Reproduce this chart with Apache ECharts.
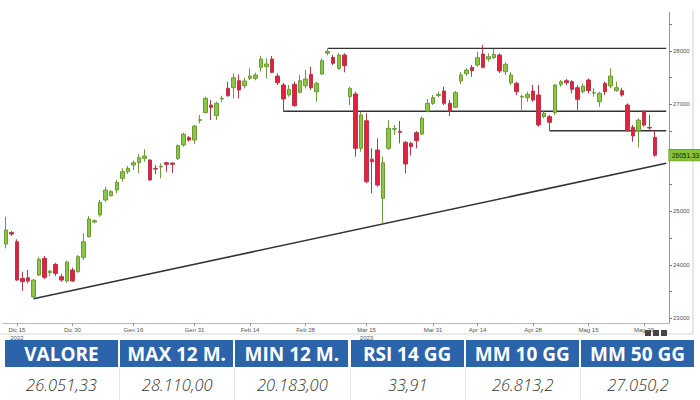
<!DOCTYPE html>
<html><head><meta charset="utf-8">
<script src="https://cdn.jsdelivr.net/npm/echarts@6/dist/echarts.min.js"></script>
<style>
html,body{margin:0;padding:0;background:#fff;}
#wrap{position:relative;width:700px;height:400px;overflow:hidden;}
#chart{position:absolute;left:0;top:0;width:700px;height:400px;}
.hdr{position:absolute;top:340px;height:27px;line-height:28px;background:#2b64aa;color:#fff;font-family:"Open Sans",sans-serif;font-weight:700;font-size:19px;text-align:center;white-space:nowrap;}
.val{position:absolute;top:368px;height:32px;line-height:34px;color:#333;font-family:"Open Sans",sans-serif;font-style:italic;font-weight:300;font-size:16.5px;text-align:center;border-left:1px solid #e6e6e6;box-sizing:border-box;}
</style></head>
<body><div id="wrap"><div id="chart"></div><div id="table"></div></div>
<script>
// ---- data ----
const dates = [
'2022-12-13','2022-12-14','2022-12-15','2022-12-16','2022-12-19','2022-12-20','2022-12-21','2022-12-22','2022-12-23','2022-12-27','2022-12-28','2022-12-29','2022-12-30',
'2023-01-02','2023-01-03','2023-01-04','2023-01-05','2023-01-06','2023-01-09','2023-01-10','2023-01-11','2023-01-12','2023-01-13','2023-01-16','2023-01-17','2023-01-18','2023-01-19','2023-01-20','2023-01-23','2023-01-24','2023-01-25','2023-01-26','2023-01-27','2023-01-30','2023-01-31',
'2023-02-01','2023-02-02','2023-02-03','2023-02-06','2023-02-07','2023-02-08','2023-02-09','2023-02-10','2023-02-13','2023-02-14','2023-02-15','2023-02-16','2023-02-17','2023-02-20','2023-02-21','2023-02-22','2023-02-23','2023-02-24','2023-02-27','2023-02-28',
'2023-03-01','2023-03-02','2023-03-03','2023-03-06','2023-03-07','2023-03-08','2023-03-09','2023-03-10','2023-03-13','2023-03-14','2023-03-15','2023-03-16','2023-03-17','2023-03-20','2023-03-21','2023-03-22','2023-03-23','2023-03-24','2023-03-27','2023-03-28','2023-03-29','2023-03-30','2023-03-31',
'2023-04-03','2023-04-04','2023-04-05','2023-04-06','2023-04-11','2023-04-12','2023-04-13','2023-04-14','2023-04-17','2023-04-18','2023-04-19','2023-04-20','2023-04-21','2023-04-24','2023-04-25','2023-04-26','2023-04-27','2023-04-28',
'2023-05-02','2023-05-03','2023-05-04','2023-05-05','2023-05-08','2023-05-09','2023-05-10','2023-05-11','2023-05-12','2023-05-15','2023-05-16','2023-05-17','2023-05-18','2023-05-19','2023-05-22','2023-05-23','2023-05-24','2023-05-25','2023-05-26','2023-05-29','2023-05-30','2023-05-31'
];
const padDates = ['2023-06-01','2023-06-02'];

const opens = [24389,24604,24432,23747,23758,23403,23809,24121,23853,24009,23778,23697,23903,23871,24140,24526,24801,24932,25213,25294,
25400,25618,25742,25867,25910,25992,25961,25805,25830,25910,25905,25992,26242,26380,26335,26703,26847,26990,26790,27102,
27302,27314,27445,27351,27489,27489,27695,27707,27850,27532,27364,27177,27377,27227,27351,27564,27239,27570,27960,27882,
27676,27925,27146,27196,26180,26696,25974,26148,25244,26180,26535,26498,26292,26273,26472,26447,26877,27021,27170,27252,
27021,26947,27439,27576,27695,27738,27944,27850,27875,27925,27613,27407,27396,27139,27127,27252,27177,26772,26772,26847,
27377,27445,27426,27314,27239,27457,27214,27052,27395,27345,27258,27258,26990,26572,26509,26865,26570,26385];
const closes = [24651,24576,23715,23684,23696,23715,24103,23766,23884,23841,23715,24052,23697,24152,24432,24857,24826,25169,25400,25369,
25543,25742,25805,25910,26004,26036,25587,25792,25842,25880,25880,26229,26442,26335,26597,26716,27115,26947,27021,27115,
27164,27501,27270,27439,27532,27551,27850,27757,27601,27407,27102,27283,26977,27445,27476,27314,27396,27818,27990,27770,
27925,27725,27302,26180,26803,25555,25930,25493,25910,26554,26548,26479,25886,26210,26322,26741,27021,27127,27190,27021,
26878,27221,27551,27645,27632,27875,27695,27894,27938,27626,27751,27551,27239,27152,27190,27083,26616,26834,26666,27364,
27426,27407,27283,27096,27345,27258,27221,27208,27239,27532,27314,27177,26509,26410,26709,26615,26560,26051.33];
const lows = [24308,24539,23702,23515,23654,23366,23790,23734,23790,23790,23684,23665,23678,23853,24090,24514,24776,24901,25181,25275,
25338,25555,25699,25774,25712,25929,25574,25699,25618,25742,25720,25961,26210,26304,26260,26647,26834,26709,26709,27040,
27145,27115,27115,27302,27457,27451,27613,27489,27583,27364,26872,27145,26958,27208,27302,27270,27052,27551,27920,27738,
27645,27601,26990,26023,26116,25525,25338,25462,24776,26148,26429,26273,25712,26042,26180,26429,26853,26990,27130,26990,
26784,26934,27383,27532,27520,27707,27676,27800,27850,27589,27551,27364,27177,26897,27052,27052,26584,26741,26509,26803,
27333,27364,27208,26897,27208,27208,27146,26958,27177,27302,27239,27146,26491,26304,26198,26584,26491,26023];
const highs = [24900,24632,24477,23871,23903,23734,24151,24164,23903,24039,23828,24077,23946,24183,24589,24913,24851,25213,25462,25400,
25587,25805,25848,25948,26073,26161,25973,25867,25899,25929,25910,26254,26472,26410,26616,26803,27145,27083,27052,27164,
27426,27583,27563,27501,27676,27595,27912,27863,27907,27583,27407,27364,27426,27551,27645,27706,27426,27863,28050,27925,
27956,27956,27333,27239,26865,26834,26180,26367,26023,26709,26616,26690,26316,26304,26503,26772,27102,27177,27240,27333,
27083,27252,27607,27676,27738,27987,28112,27956,28037,27956,27789,27601,27426,27177,27239,27364,27364,26896,26803,27383,
27457,27476,27457,27364,27395,27489,27302,27239,27426,27676,27426,27314,27021,26616,26741,26896,26803,26522];

const lastClose = 26051.33;

// analyst lines: [date, value] start/end
const resistanceHigh = [['2023-03-06', 28050], ['2023-06-02', 28050]];
const resistanceMid  = [['2023-02-22', 26872], ['2023-06-02', 26872]];
const supportLow     = [['2023-05-04', 26509], ['2023-06-02', 26509]];
const trendLine      = [['2022-12-20', 23366], ['2023-06-02', 25899]];

const tickDates  = ['2022-12-15','2022-12-30','2023-01-16','2023-01-31','2023-02-14','2023-02-28','2023-03-15','2023-03-31','2023-04-14','2023-04-28','2023-05-15','2023-05-29'];
const tickLabels = ['Dic 15\n2022','Dic 30','Gen 16','Gen 31','Feb 14','Feb 28','Mar 15\n2023','Mar 31','Apr 14','Apr 28','Mag 15','Mag 29'];
const yTickValues  = [23000,23500,24000,24500,25000,25500,26000,26500,27000,27500,28000,28500];
const yLabelValues = [23000,24000,25000,27000,28000];

const tableHeaders = ['VALORE','MAX 12 M.','MIN 12 M.','RSI 14 GG','MM 10 GG','MM 50 GG'];
const tableValues  = ['26.051,33','28.110,00','20.183,00','33,91','26.813,2','27.050,2'];

// ---- table ----
const tbl = document.getElementById('table');
tableHeaders.forEach((h, k) => {
  const left = 5 + k * 115.2;
  const d = document.createElement('div');
  d.className = 'hdr'; d.style.left = left + 'px'; d.style.width = '113px'; d.textContent = h;
  tbl.appendChild(d);
  const v = document.createElement('div');
  v.className = 'val'; v.style.left = (left - 1) + 'px'; v.style.width = '115px'; v.textContent = tableValues[k];
  if (k === 0) v.style.borderLeft = 'none';
  tbl.appendChild(v);
});

// ---- chart ----
const candles = dates.map((d, i) => [opens[i], closes[i], lows[i], highs[i]]);
const chart = echarts.init(document.getElementById('chart'), null, {renderer: 'svg'});
const lineStyle = {color: '#333', width: 1.4};
chart.setOption({
  animation: false,
  grid: {left: 3, right: 31, top: 12, bottom: 77},
  xAxis: {
    type: 'category', data: dates.concat(padDates), boundaryGap: true,
    axisLine: {lineStyle: {color: '#b8b8b8'}},
    axisTick: {show: true, alignWithLabel: true, length: 3, lineStyle: {color: '#999'},
      interval: (i, v) => tickDates.includes(v)},
    axisLabel: {interval: (i, v) => tickDates.includes(v),
      formatter: v => tickLabels[tickDates.indexOf(v)] || '',
      fontSize: 6, color: '#555', margin: 3, lineHeight: 8, fontFamily: 'Liberation Sans'},
    splitLine: {show: false}
  },
  yAxis: {
    type: 'value', position: 'right', min: 22912, max: 28730, scale: true,
    splitLine: {show: false},
    axisLine: {show: true, lineStyle: {color: '#999'}},
    axisTick: {show: true, length: 3, customValues: yTickValues, lineStyle: {color: '#777'}},
    axisLabel: {customValues: yLabelValues, fontSize: 6, color: '#555', margin: 4,
      formatter: v => String(v), fontFamily: 'Liberation Sans'}
  },
  series: [
    {type: 'line', data: trendLine, symbol: 'none', lineStyle: {color: '#333', width: 1.6}, z: 1},
    {type: 'line', data: resistanceHigh, symbol: 'none', lineStyle, z: 1},
    {type: 'line', data: resistanceMid, symbol: 'none', lineStyle, z: 1},
    {type: 'line', data: supportLow, symbol: 'none', lineStyle, z: 1,
      markLine: {silent: true, symbol: ['none', 'none'], animation: false,
        lineStyle: {color: 'rgba(0,0,0,0)', width: 0.01, type: 'solid'},
        data: [{yAxis: lastClose}],
        label: {show: true, position: 'end', distance: 0, formatter: () => '{b|' + lastClose.toFixed(2) + '}',
          rich: {b: {backgroundColor: '#86c237', color: '#14200a', fontSize: 6.5, padding: [2, 3, 2, 3],
            fontFamily: 'Liberation Sans', borderColor: '#5f9a22', borderWidth: 0.6}}}}},
    {type: 'candlestick', data: candles, barWidth: 4, z: 3,
      itemStyle: {color: '#8dc63f', color0: '#e3203d', borderColor: '#6b9a3a', borderColor0: '#b3384a', borderWidth: 1}
    }
  ],
  graphic: [
    {type: 'line', shape: {x1: 693, y1: 10, x2: 693, y2: 334}, style: {stroke: '#cfcfcf', lineWidth: 1}, silent: true},
    {type: 'line', shape: {x1: 0, y1: 334, x2: 693, y2: 334}, style: {stroke: '#d8d8d8', lineWidth: 1}, silent: true},
    {type: 'rect', shape: {x: 645, y: 330, width: 6, height: 6}, style: {fill: '#444'}, silent: true},
    {type: 'rect', shape: {x: 653, y: 330, width: 6, height: 6}, style: {fill: '#444'}, silent: true},
    {type: 'rect', shape: {x: 661, y: 330, width: 6, height: 6}, style: {fill: '#444'}, silent: true}
  ]
});
</script></body></html>
